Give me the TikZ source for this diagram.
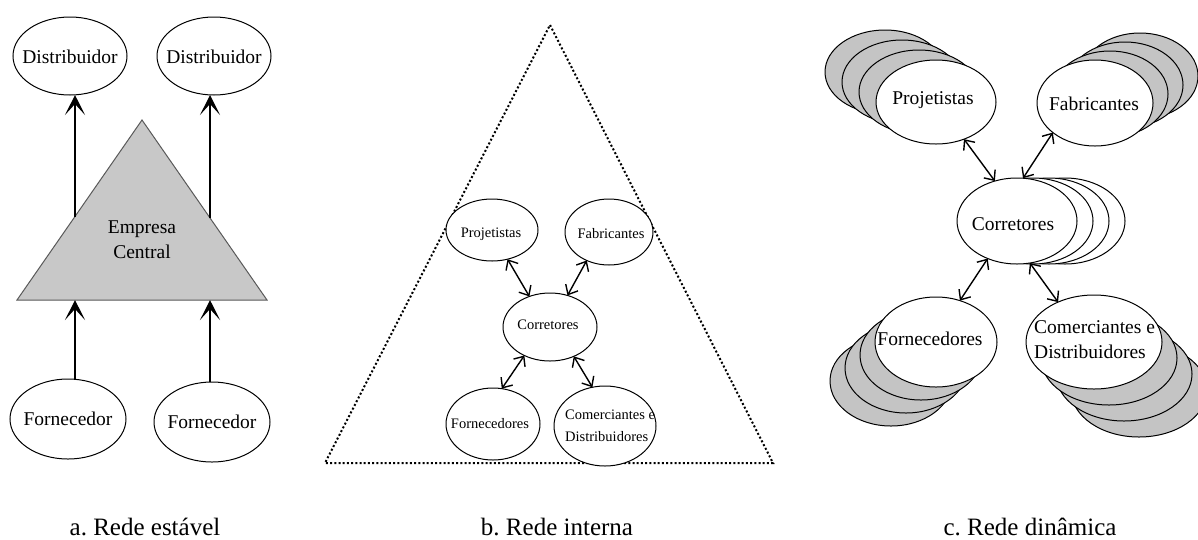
\documentclass[tikz,border=0pt]{standalone}
\usepackage{fontspec}
\setmainfont{Liberation Serif}
\usetikzlibrary{shapes.geometric,arrows.meta}
\definecolor{triGray}{RGB}{200,200,200}
\definecolor{stackGray}{RGB}{196,196,196}
\tikzset{
  ell/.style={draw, ellipse, line width=1pt, fill=white, inner sep=0pt, outer sep=0pt},
  gell/.style={ell, fill=stackGray},
  lbla/.style={inner sep=0pt, font=\fontsize{19.5}{25}\selectfont},
  lblb/.style={inner sep=0pt, font=\fontsize{14.5}{22}\selectfont},
  lblc/.style={inner sep=0pt, font=\fontsize{19.5}{25}\selectfont},
  capt/.style={inner sep=0pt, anchor=base, font=\fontsize{25}{28}\selectfont},
  arra/.style={line width=1.5pt, -{Stealth[length=20pt,width=20pt,inset=11pt]}},
  arrb/.style={line width=1.4pt, {Straight Barb[length=8pt,width=14pt]}-{Straight Barb[length=8pt,width=14pt]}},
  dotline/.style={line width=2pt, dash pattern=on 2pt off 2.2pt},
}
\begin{document}
\frenchspacing
\begin{tikzpicture}[x=1pt,y=-1pt]
\useasboundingbox (0,0) rectangle (1198,539);
% ---------------- panel a ----------------
\draw[fill=triGray, draw=black!65, line width=1pt] (142,120) -- (267,300) -- (17,300) -- cycle;
\node[lbla, align=center] (emp) at (142,240) {Empresa\\Central};
\node[ell, minimum width=114pt, minimum height=78pt] (d1) at (70,56) {};
\node[ell, minimum width=114pt, minimum height=78pt] (d2) at (214,56) {};
\node[lbla] (d1t) at (70,57) {Distribuidor};
\node[lbla] (d2t) at (214,57) {Distribuidor};
\node[ell, minimum width=116pt, minimum height=80pt] (f1) at (68,419) {};
\node[ell, minimum width=116pt, minimum height=80pt] (f2) at (212,422) {};
\node[lbla] (f1t) at (68,419) {Fornecedor};
\node[lbla] (f2t) at (212,422) {Fornecedor};
\coordinate (tl) at (75,217);
\coordinate (tr) at (210,218);
\coordinate (bl) at (75,300);
\coordinate (br) at (210,300);
\draw[arra] (tl) -- (tl |- d1.south);
\draw[arra] (tr) -- (tr |- d2.south);
\draw[arra] (f1.north -| bl) -- (bl);
\draw[arra] (f2.north -| br) -- (br);
% ---------------- panel b ----------------
\draw[dotline] (550,25) -- (773,463) -- (325,463) -- cycle;
\node[ell, minimum width=92pt, minimum height=62pt] (bp) at (492,230) {};
\node[ell, minimum width=88pt, minimum height=66pt] (bf) at (609,232) {};
\node[ell, minimum width=94pt, minimum height=68pt] (bc) at (550,327) {};
\node[ell, minimum width=94pt, minimum height=72pt] (bfo) at (493,424) {};
\node[ell, minimum width=102pt, minimum height=80pt] (bcm) at (605,426) {};
\node[lblb] (bpt) at (491,234) {Projetistas};
\node[lblb] (bft) at (611,234) {Fabricantes};
\node[lblb] (bct) at (548,325) {Corretores};
\node[lblb] (bfot) at (490,424) {Fornecedores};
\node[lblb, align=left, anchor=west] (bcmt) at (565,426) {Comerciantes e\\Distribuidores};
\draw[arrb] (bp.-62) -- (bc.124);
\draw[arrb] (bf.-128) -- (bc.61);
\draw[arrb] (bfo.76) -- (bc.-132);
\draw[arrb] (bcm.108) -- (bc.-51);
% ---------------- panel c ----------------
% Projetistas stack
\foreach \k in {3,2,1}{
  \node[gell, minimum width=120pt, minimum height=84pt] (cp\k) at (936-17*\k,102-10*\k) {};
}
\node[ell, minimum width=120pt, minimum height=84pt] (cp) at (936,102) {};
% Fabricantes stack
\foreach \k in {3,2,1}{
  \node[gell, minimum width=116pt, minimum height=86pt] (cf\k) at (1095+15*\k,103-9*\k) {};
}
\node[ell, minimum width=116pt, minimum height=86pt] (cf) at (1095,103) {};
% Corretores stack
\foreach \k in {3,2,1}{
  \node[ell, minimum width=120pt, minimum height=86pt] (cc\k) at (1017+16*\k,221) {};
}
\node[ell, minimum width=120pt, minimum height=86pt] (cc) at (1017,221) {};
% Fornecedores stack
\foreach \k in {3,2,1}{
  \node[gell, minimum width=122pt, minimum height=90pt] (cfo\k) at (936-15*\k,342+13*\k) {};
}
\node[ell, minimum width=122pt, minimum height=90pt] (cfo) at (936,342) {};
% Comerciantes stack
\foreach \k in {3,2,1}{
  \node[gell, minimum width=136pt, minimum height=94pt] (ccm\k) at (1094+15*\k,342+16*\k) {};
}
\node[ell, minimum width=136pt, minimum height=94pt] (ccm) at (1094,342) {};
\node[lblc] (cpt) at (933,100) {Projetistas};
\node[lblc] (cft) at (1094,104) {Fabricantes};
\node[lblc] (cct) at (1013,224) {Corretores};
\node[lblc] (cfot) at (930,339) {Fornecedores};
\node[lblc, align=left, anchor=west] (ccmt) at (1034,340) {Comerciantes e\\Distribuidores};
\draw[arrb] (cp.-53) -- (cc.119);
\draw[arrb] (cf.215) -- (cc.82);
\draw[arrb] (cfo.60) -- (cc.232);
\draw[arrb] (ccm.132) -- (cc.-73);
% ---------------- captions ----------------
\node[capt] (capa) at (145,535) {a. Rede estável};
\node[capt] (capb) at (557,535) {b. Rede interna};
\node[capt] (capc) at (1030,535) {c. Rede dinâmica};
\end{tikzpicture}
\end{document}
